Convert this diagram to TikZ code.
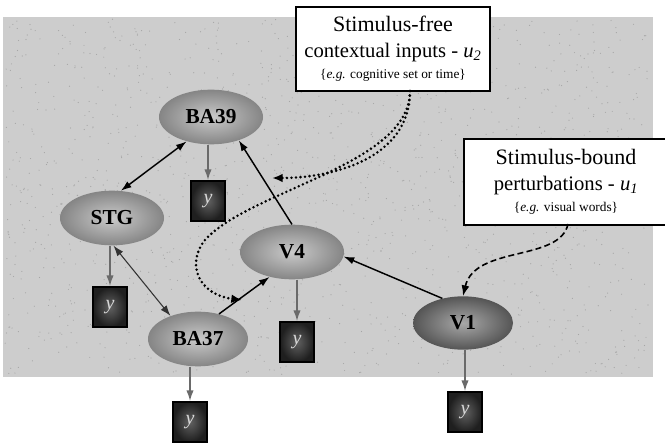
\documentclass[tikz,border=0pt]{standalone}
\usepackage{fontspec}
\setmainfont{Liberation Serif}
\usetikzlibrary{arrows.meta,shapes.geometric}
\definecolor{bgcol}{HTML}{CDCDCD}
\definecolor{speckcol}{HTML}{A6A6A6}
\definecolor{regin}{HTML}{CACACA}
\definecolor{regout}{HTML}{858585}
\definecolor{vin}{HTML}{A8A8A8}
\definecolor{vout}{HTML}{555555}
\definecolor{obscol}{HTML}{6A6A6A}
\tikzset{
  region/.style={ellipse, inner sep=0pt, minimum width=78pt, minimum height=41pt,
    shade, inner color=regin, outer color=regout,
    font=\fontsize{16}{16}\selectfont\bfseries},
  darkregion/.style={region, minimum width=75pt, minimum height=40pt, inner color=vin, outer color=vout},
  ybox/.style={rectangle, draw=black, line width=1.4pt, inner sep=0pt,
    minimum width=25pt, minimum height=30pt, shade, inner color=black!62, outer color=black!88,
    text=black!15, font=\fontsize{15}{15}\selectfont\itshape},
  textbox/.style={rectangle, draw=black, line width=1.1pt, fill=white, align=center, inner sep=2pt,
    font=\fontsize{15.5}{19}\selectfont},
  smalltext/.style={},
  link/.style={line width=1.1pt, draw=black},
  thinlink/.style={line width=0.8pt, draw=black!80},
  obs/.style={line width=1.1pt, draw=obscol, -{Latex[length=8pt,width=5.5pt]}, color=obscol},
  ctxline/.style={line width=2.1pt, dash pattern=on 0pt off 3.4pt, line cap=round, -{Latex[length=8pt,width=6.5pt]}},
  stimline/.style={line width=1.2pt, dash pattern=on 4.5pt off 2.5pt, -{Latex[length=8pt,width=6pt]}},
  >={Latex[length=8pt,width=5.5pt]}
}
\begin{document}
\begin{tikzpicture}[x=0.75pt,y=-0.75pt]
\useasboundingbox (0,0) rectangle (665,445);
\fill[white] (0,0) rectangle (665,445);
\fill[bgcol] (3,17) rectangle (653,377);
\pgfmathsetseed{11}
\foreach \i in {1,...,1500}{
  \fill[speckcol] ({5+646*rnd},{19+356*rnd}) circle (0.6);
}
% text boxes
\node[textbox, minimum width=145.5pt, minimum height=63pt] (u2) at (393,49)
  {{\fontsize{16.5}{19}\selectfont Stimulus-free}\\
   contextual inputs - \textit{u\textsubscript{2}}\\[-3pt]
   {\fontsize{10}{12}\selectfont \{\textit{e.g.} cognitive set or time\}}};
\node[textbox, minimum width=153pt, minimum height=64.5pt] (u1) at (566,182)
  {{\fontsize{16.5}{19}\selectfont Stimulus-bound}\\
   perturbations - \textit{u\textsubscript{1}}\\[-3pt]
   {\fontsize{10}{12}\selectfont \{\textit{e.g.} visual words\}}};
% regions
\node[region] (BA39) at (211,117) {BA39};
\node[region] (STG) at (112,218) {STG};
\node[region] (V4) at (292,252) {V4};
\node[region, minimum width=75pt] (BA37) at (198,339) {BA37};
\node[darkregion] (V1) at (463,323) {V1};
% observation boxes
\node[ybox] (y1) at (208,201) {y};
\node[ybox] (y2) at (110,307) {y};
\node[ybox] (y3) at (297,342) {y};
\node[ybox] (y4) at (190,422) {y};
\node[ybox] (y5) at (465,412) {y};
% connections
\draw[link,<->] (STG.72) -- (BA39.225);
\draw[link,->] (V4.north) -- (BA39.-40);
\draw[thinlink,<->] (STG.-87) -- (BA37.140);
\draw[link,->] (BA37.50) -- (V4.228);
\draw[link,->] (V1.130) -- (V4.-5);
% observation arrows
\draw[obs] (y1 |- BA39.south) -- (y1.north);
\draw[obs] (y2 |- STG.south) -- (y2.north);
\draw[obs] (y3 |- V4.south) -- (y3.north);
\draw[obs] (y4 |- BA37.south) -- (y4.north);
\draw[obs] (y5 |- V1.south) -- (y5.north);
% inputs
\coordinate (ctxA) at (272,178);
\coordinate (ctxB) at (205,240);
\coordinate (ctxC) at (242,300);
\coordinate (u2out) at (410,91);
\draw[ctxline] (u2out) .. controls (410,160) and (330,178) .. (ctxA);
\draw[ctxline] (u2out) .. controls (410,165) and (250,190) .. (ctxB)
  .. controls (185,265) and (200,295) .. (ctxC);
\coordinate (u1out) at (568,224);
\draw[stimline] (u1out) .. controls (560,262) and (475,245) .. (V1.north);
\end{tikzpicture}
\end{document}
